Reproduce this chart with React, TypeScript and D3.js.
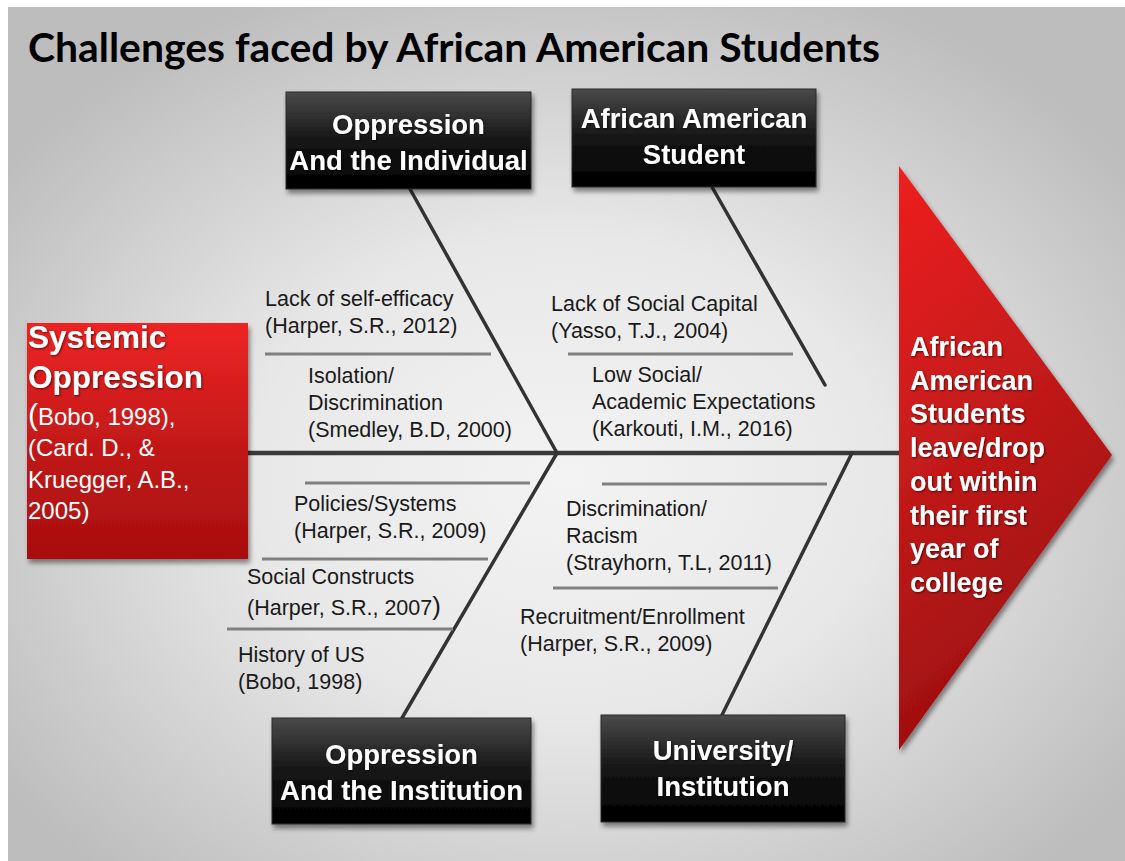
import * as d3 from "d3";

// Diagram content
const title = "Challenges faced by African American Students";
const rootHead = ["Systemic", "Oppression"];
const rootRefs = ["(Bobo, 1998),", "(Card. D., &", "Kruegger, A.B.,", "2005)"];
const effectLines = [
  "African",
  "American",
  "Students",
  "leave/drop",
  "out within",
  "their first",
  "year of",
  "college",
];
const categoryTop = [
  ["Oppression", "And the Individual"],
  ["African American", "Student"],
];
const categoryBottom = [
  ["Oppression", "And the Institution"],
  ["University/", "Institution"],
];
const causesIndividual = [
  ["Lack of self-efficacy", "(Harper, S.R., 2012)"],
  ["Isolation/", "Discrimination", "(Smedley, B.D, 2000)"],
];
const causesStudent = [
  ["Lack of Social Capital", "(Yasso, T.J., 2004)"],
  ["Low Social/", "Academic Expectations", "(Karkouti, I.M., 2016)"],
];
const causesInstitution = [
  ["Policies/Systems", "(Harper, S.R., 2009)"],
  ["Social Constructs", "(Harper, S.R., 2007)"],
  ["History of US", "(Bobo, 1998)"],
];
const causesUniversity = [
  ["Discrimination/", "Racism", "(Strayhorn, T.L, 2011)"],
  ["Recruitment/Enrollment", "(Harper, S.R., 2009)"],
];

const W = 1125;
const H = 861;
const SANS = "'Liberation Sans', Arial, sans-serif";
const spineY = 453;
const lineH = 27;

// box geometry
const topBoxes = [
  { x0: 286, x1: 531, y0: 92, y1: 189, base: 134 },
  { x0: 572, x1: 816, y0: 89, y1: 187, base: 128 },
];
const bottomBoxes = [
  { x0: 272, x1: 531, y0: 718, y1: 824, base: 764 },
  { x0: 601, x1: 845, y0: 715, y1: 822, base: 760 },
];

// bones: [x at top, y top, x at bottom, y bottom]
const bones = [
  [410, 189, 557, spineY],
  [712, 187, 825, 385],
  [557, spineY, 402, 718],
  [852, spineY, 722, 715],
];

// sub-branch rules
const rules = [
  [265, 491, 354],
  [568, 793, 354],
  [305, 530, 483],
  [262, 488, 559],
  [227, 453, 629],
  [602, 827, 484],
  [553, 778, 588],
];

// cause label anchors [x, first baseline]
const causeAnchors = [
  [265, 306],
  [308, 383],
  [551, 311],
  [592, 382],
  [294, 511],
  [247, 584],
  [238, 662],
  [566, 516],
  [520, 624],
];

function Box({ b, lines }: { b: any; lines: string[] }) {
  const cx = (b.x0 + b.x1) / 2;
  return (
    <g>
      <rect
        x={b.x0}
        y={b.y0}
        width={b.x1 - b.x0}
        height={b.y1 - b.y0}
        fill="url(#boxGrad)"
        stroke="#2a2a2a"
        strokeWidth={1}
        filter="url(#shadow)"
      />
      {lines.map((l, i) => (
        <text
          key={i}
          x={cx}
          y={b.base + i * 36}
          textAnchor="middle"
          fill="#fff"
          fontFamily={SANS}
          fontWeight="bold"
          fontSize={27.5}
          filter="url(#txtShadow)"
        >
          {l}
        </text>
      ))}
    </g>
  );
}

export default function App() {
  const allCauses = [
    ...causesIndividual,
    ...causesStudent,
    ...causesInstitution,
    ...causesUniversity,
  ];
  const tri = d3.line()([
    [899, 166],
    [1112, 455],
    [899, 750],
  ]) + "Z";

  return (
    <svg
      width={W}
      height={H}
      style={{ position: "fixed", left: 0, top: 0 }}
      viewBox={`0 0 ${W} ${H}`}
    >
      <defs>
        <radialGradient id="bg" cx="0.5" cy="0.55" r="0.62">
          <stop offset="0" stopColor="#f3f3f3" />
          <stop offset="0.45" stopColor="#e8e8e8" />
          <stop offset="1" stopColor="#bdbdbd" />
        </radialGradient>
        <linearGradient id="boxGrad" x1="0" y1="0" x2="0" y2="1">
          <stop offset="0" stopColor="#4a4a4a" />
          <stop offset="0.5" stopColor="#151515" />
          <stop offset="1" stopColor="#000" />
        </linearGradient>
        <linearGradient id="redGrad" x1="0" y1="0" x2="0" y2="1">
          <stop offset="0" stopColor="#ee2424" />
          <stop offset="0.55" stopColor="#c01818" />
          <stop offset="1" stopColor="#a80e0e" />
        </linearGradient>
        <linearGradient id="triGrad" x1="0" y1="0" x2="0.3" y2="1">
          <stop offset="0" stopColor="#ee2020" />
          <stop offset="0.5" stopColor="#c41a1a" />
          <stop offset="1" stopColor="#9a0e0e" />
        </linearGradient>
        <filter id="shadow" x="-10%" y="-10%" width="125%" height="130%">
          <feDropShadow dx="2" dy="4" stdDeviation="2.5" floodColor="#000" floodOpacity="0.45" />
        </filter>
        <filter id="txtShadow" x="-5%" y="-20%" width="110%" height="150%">
          <feDropShadow dx="1" dy="1" stdDeviation="0.8" floodColor="#000" floodOpacity="0.6" />
        </filter>
      </defs>

      <rect x={0} y={0} width={W} height={H} fill="#fff" />
      <rect x={8} y={7} width={W - 8} height={H - 7} fill="url(#bg)" />

      <text
        x={28}
        y={62}
        fontFamily="Lato, 'Open Sans', sans-serif"
        fontWeight="bold"
        fontSize={41}
        fill="#000"
        textLength={852}
        lengthAdjust="spacingAndGlyphs"
      >
        {title}
      </text>

      {/* spine */}
      <line x1={248} x2={899} y1={spineY} y2={spineY} stroke="#3a3a3a" strokeWidth={4.5} />

      {/* bones */}
      {bones.map((b, i) => (
        <line
          key={i}
          x1={b[0]}
          y1={b[1]}
          x2={b[2]}
          y2={b[3]}
          stroke="#333"
          strokeWidth={3.5}
          strokeLinecap="round"
        />
      ))}

      {/* sub rules */}
      {rules.map((r, i) => (
        <line key={i} x1={r[0]} x2={r[1]} y1={r[2]} y2={r[2]} stroke="#808080" strokeWidth={3} />
      ))}

      {/* cause labels */}
      {allCauses.map((c, i) => (
        <text
          key={i}
          x={causeAnchors[i][0]}
          y={causeAnchors[i][1]}
          fontFamily={SANS}
          fontSize={21.5}
          fill="#1a1a1a"
        >
          {c.map((l, j) => (
            <tspan key={j} x={causeAnchors[i][0]} y={causeAnchors[i][1] + j * lineH + (i === 5 && j === 1 ? 4 : 0)}>
              {i === 5 && j === 1 ? (
                <>
                  {l.slice(0, -1)}
                  <tspan fontSize={26}>{l.slice(-1)}</tspan>
                </>
              ) : (
                l
              )}
            </tspan>
          ))}
        </text>
      ))}

      {/* category boxes */}
      {topBoxes.map((b, i) => (
        <Box key={"t" + i} b={b} lines={categoryTop[i]} />
      ))}
      {bottomBoxes.map((b, i) => (
        <Box key={"b" + i} b={b} lines={categoryBottom[i]} />
      ))}

      {/* root cause box */}
      <rect x={27} y={323} width={221} height={236} fill="url(#redGrad)" filter="url(#shadow)" />
      {rootHead.map((l, i) => (
        <text
          key={i}
          x={28}
          y={348 + i * 40}
          fontFamily={SANS}
          fontWeight="bold"
          fontSize={31.5}
          fill="#fff"
          filter="url(#txtShadow)"
        >
          {l}
        </text>
      ))}
      {rootRefs.map((l, i) => (
        <text key={i} x={28} y={425 + i * 31.3} fontFamily={SANS} fontSize={24} fill="#fff">
          {i === 0 ? (
            <>
              <tspan fontSize={30}>{l[0]}</tspan>
              {l.slice(1)}
            </>
          ) : (
            l
          )}
        </text>
      ))}

      {/* effect arrow */}
      <path d={tri} fill="url(#triGrad)" filter="url(#shadow)" />
      {effectLines.map((l, i) => (
        <text
          key={i}
          x={910}
          y={356 + i * 33.7}
          fontFamily={SANS}
          fontWeight="bold"
          fontSize={27}
          fill="#fff"
          filter="url(#txtShadow)"
        >
          {l}
        </text>
      ))}
    </svg>
  );
}
